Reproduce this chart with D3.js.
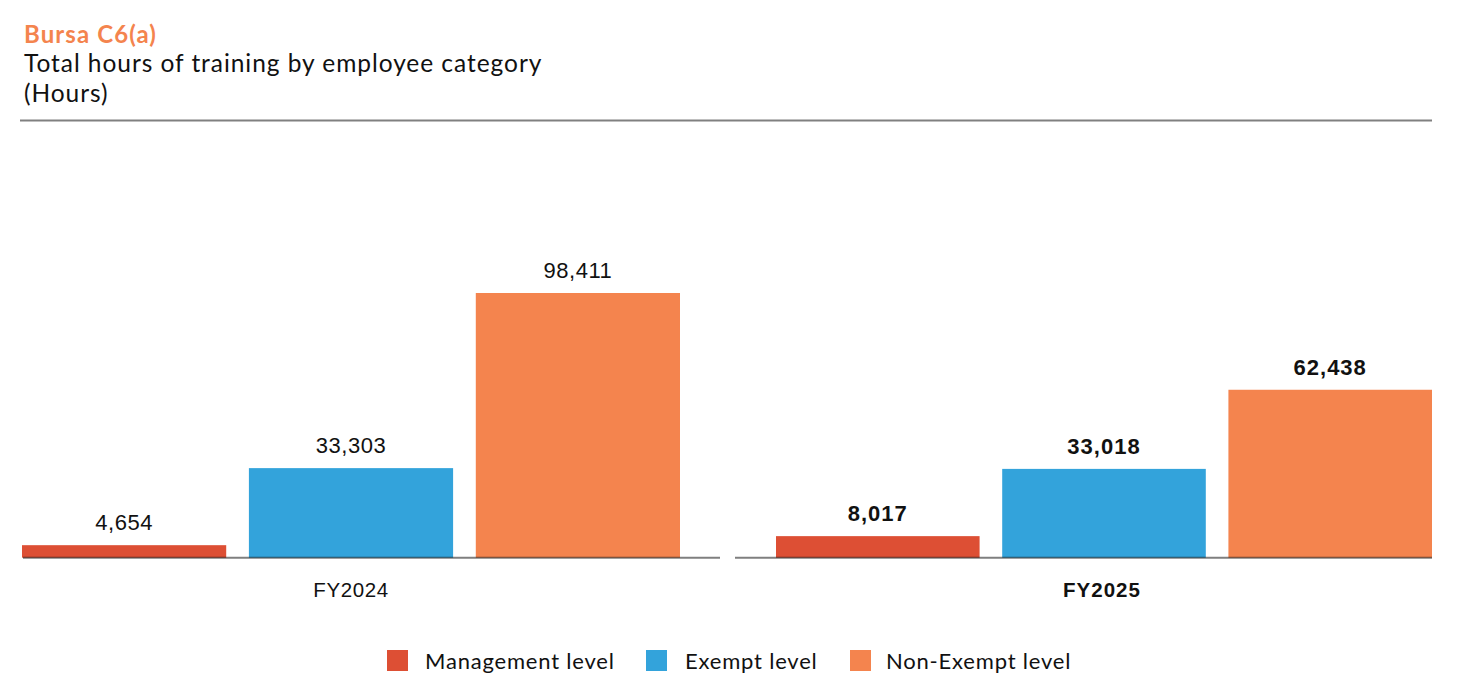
<!DOCTYPE html>
<html>
<head>
<meta charset="utf-8">
<script src="https://cdn.jsdelivr.net/npm/d3@7"></script>
<style>
  body { margin: 0; background: #fff; }
  svg { display: block; }
</style>
</head>
<body>
<div id="container"></div>
<script>
let years = ["FY2024", "FY2025"];
let levels = ["Management level", "Exempt level", "Non-Exempt level"];
let management = [4654, 8017];
let exempt = [33303, 33018];
let nonExempt = [98411, 62438];
let colors = ["#DD4F34", "#33A3DB", "#F4844E"];

let W = 1466, H = 691;
let baseY = 557.7;

let svg = d3.select('#container').append('svg')
    .attr('width', W)
    .attr('height', H);

// header
svg.append('text')
    .attr('x', 24).attr('y', 42.5)
    .style('font-family', 'Lato, sans-serif')
    .style('font-weight', 700)
    .style('font-size', '24px')
    .style('letter-spacing', '1.1px')
    .style('fill', '#F4844E')
    .text('Bursa C6(a)');
svg.append('text')
    .attr('x', 24).attr('y', 71.5)
    .style('font-family', 'Lato, sans-serif')
    .style('font-size', '24.5px')
    .style('letter-spacing', '0.95px')
    .style('fill', '#111')
    .text('Total hours of training by employee category');
svg.append('text')
    .attr('x', 24).attr('y', 101.5)
    .style('font-family', 'Lato, sans-serif')
    .style('font-size', '24.5px')
    .style('letter-spacing', '0.95px')
    .style('fill', '#111')
    .text('(Hours)');
svg.append('line')
    .attr('x1', 20).attr('x2', 1432)
    .attr('y1', 120.5).attr('y2', 120.5)
    .style('stroke', '#808080')
    .style('stroke-width', 2);

// one panel per year: bars span and baseline span
let panels = [
    { bars: [22, 680], axis: [23, 720] },
    { bars: [776, 1432], axis: [735, 1432] }
];

let y = d3.scaleLinear()
    .domain([0, 98411])
    .range([baseY, 293]);

let series = [management, exempt, nonExempt];

years.forEach(function (year, i) {
    let p = panels[i];
    let x = d3.scaleBand()
        .domain(levels)
        .range(p.bars)
        .paddingInner(0.1)
        .paddingOuter(0);
    let g = svg.append('g');
    let bold = i === 1;

    levels.forEach(function (lv, j) {
        let v = series[j][i];
        g.append('rect')
            .attr('x', x(lv))
            .attr('y', y(v))
            .attr('width', x.bandwidth())
            .attr('height', baseY - y(v))
            .style('fill', colors[j]);
        g.append('text')
            .attr('x', x(lv) + x.bandwidth() / 2)
            .attr('y', y(v) - 14.7)
            .attr('text-anchor', 'middle')
            .style('font-family', '"Liberation Sans", Arial, sans-serif')
            .style('font-size', '22px')
            .style('letter-spacing', bold ? '1px' : '0.5px')
            .style('font-weight', bold ? 700 : 400)
            .style('fill', '#111')
            .text(d3.format(',')(v));
    });

    g.append('line')
        .attr('x1', p.axis[0]).attr('x2', p.axis[1])
        .attr('y1', baseY).attr('y2', baseY)
        .style('stroke', '#000')
        .style('stroke-opacity', 0.5)
        .style('stroke-width', 2);

    g.append('text')
        .attr('x', (p.bars[0] + p.bars[1]) / 2 - (bold ? 2 : 0))
        .attr('y', 597.3)
        .attr('text-anchor', 'middle')
        .style('font-family', '"Liberation Sans", Arial, sans-serif')
        .style('font-size', '20.5px')
        .style('letter-spacing', bold ? '1px' : '0.6px')
        .style('font-weight', bold ? 700 : 400)
        .style('fill', '#111')
        .text(year);
});

// legend
let legendX = [387, 646, 850];
let legendTextX = [425, 685, 886];
let legend = svg.append('g');
levels.forEach(function (lv, j) {
    legend.append('rect')
        .attr('x', legendX[j]).attr('y', 650)
        .attr('width', 21).attr('height', 21)
        .style('fill', colors[j]);
    legend.append('text')
        .attr('x', legendTextX[j]).attr('y', 669)
        .style('font-family', 'Lato, sans-serif')
        .style('font-size', '22px')
        .style('letter-spacing', '0.8px')
        .style('fill', '#111')
        .text(lv);
});
</script>
</body>
</html>
